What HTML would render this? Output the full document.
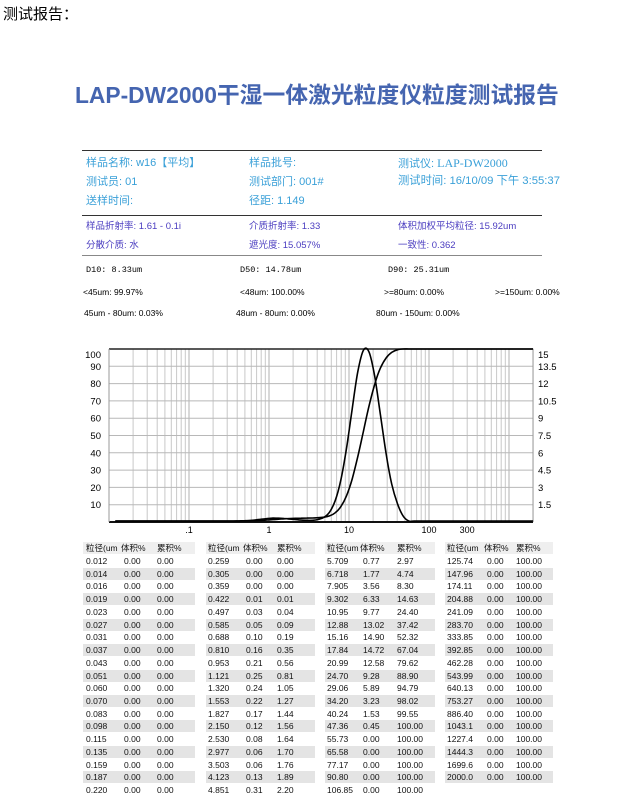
<!DOCTYPE html>
<html><head><meta charset="utf-8">
<style>
body{margin:0;width:630px;height:795px;background:#fff;position:relative;overflow:hidden;font-family:"Liberation Sans","Noto Sans CJK SC",sans-serif}
.a{position:absolute;white-space:nowrap;line-height:1}
.b{color:#3aa0d8;font-size:11px}
.p{color:#4a3cc0;font-size:9.5px}
.k{color:#000;font-size:8.5px}
.hl{position:absolute;left:82px;width:460px;height:1px;background:#333}
.sh{position:absolute;background:#e4e4e4;height:12px}
.t{position:absolute;font-size:8.5px;color:#111;white-space:nowrap;line-height:1}
</style></head><body>
<div class="a" style="left:3px;top:7px;font-size:15px;color:#000">测试报告：</div>
<div class="a" style="left:75px;top:84px;font-size:22.8px;font-weight:bold;color:#4565b0">LAP-DW2000干湿一体激光粒度仪粒度测试报告</div>

<div class="hl" style="top:150px"></div>
<div class="hl" style="top:215px"></div>
<div class="hl" style="top:255px;background:#888"></div>

<div class="a b" style="left:86px;top:158px">样品名称: w16【平均】</div>
<div class="a b" style="left:249px;top:158px">样品批号:</div>
<div class="a b" style="left:398px;top:157px">测试仪: <span style="font-family:'Liberation Serif',serif;font-size:12px">LAP-DW2000</span></div>
<div class="a b" style="left:86px;top:177px">测试员: 01</div>
<div class="a b" style="left:249px;top:177px">测试部门: 001#</div>
<div class="a b" style="left:398px;top:176px;font-size:11.3px">测试时间: 16/10/09 下午 3:55:37</div>
<div class="a b" style="left:86px;top:196px">送样时间:</div>
<div class="a b" style="left:249px;top:196px">径距: 1.149</div>

<div class="a p" style="left:86px;top:222px">样品折射率: 1.61 - 0.1i</div>
<div class="a p" style="left:249px;top:222px">介质折射率: 1.33</div>
<div class="a p" style="left:398px;top:222px">体积加权平均粒径: 15.92um</div>
<div class="a p" style="left:86px;top:241px">分散介质: 水</div>
<div class="a p" style="left:249px;top:241px">遮光度: 15.057%</div>
<div class="a p" style="left:398px;top:241px">一致性: 0.362</div>

<div class="a k" style="left:86px;top:266px;font-family:'Liberation Mono',monospace;font-size:8.5px">D10: 8.33um</div>
<div class="a k" style="left:240px;top:266px;font-family:'Liberation Mono',monospace;font-size:8.5px">D50: 14.78um</div>
<div class="a k" style="left:388px;top:266px;font-family:'Liberation Mono',monospace;font-size:8.5px">D90: 25.31um</div>
<div class="a k" style="left:83px;top:288px">&lt;45um: 99.97%</div>
<div class="a k" style="left:240px;top:288px">&lt;48um: 100.00%</div>
<div class="a k" style="left:384px;top:288px">&gt;=80um: 0.00%</div>
<div class="a k" style="left:495px;top:288px">&gt;=150um: 0.00%</div>
<div class="a k" style="left:84px;top:309px">45um - 80um: 0.03%</div>
<div class="a k" style="left:236px;top:309px">48um - 80um: 0.00%</div>
<div class="a k" style="left:376px;top:309px">80um - 150um: 0.00%</div>

<svg id="ch" width="630" height="540" style="position:absolute;left:0;top:0" xmlns="http://www.w3.org/2000/svg"></svg>
<div id="tb"></div>

<script>
var s=document.getElementById('ch'),h='';
var L=109,R=533,T=349,B=522,D=80;
function X(v){return L+D*(Math.log10(v)+2);}
for(var e=-2;e<=3;e++)for(var k=1;k<10;k++){var v=k*Math.pow(10,e);if(v>2000)break;var x=X(v);if(x<=L+0.5)continue;
h+='<line x1="'+x.toFixed(1)+'" y1="'+T+'" x2="'+x.toFixed(1)+'" y2="'+B+'" stroke="'+(k==1?'#b0b0b0':'#c8c8c8')+'" stroke-width="1"/>';}
for(var i=1;i<10;i++){var y=B-i*17.3;h+='<line x1="'+L+'" y1="'+y.toFixed(1)+'" x2="'+R+'" y2="'+y.toFixed(1)+'" stroke="#b8b8b8"/>';
h+='<text x="101" y="'+(y+3.5).toFixed(1)+'" font-size="9.5" text-anchor="end" font-family="Liberation Sans">'+(i*10)+'</text>';
h+='<text x="538" y="'+(y+3.5).toFixed(1)+'" font-size="9.5" font-family="Liberation Sans">'+[,'1.5','3','4.5','6','7.5','9','10.5','12','13.5'][i]+'</text>';}
h+='<text x="101" y="358" font-size="9.5" text-anchor="end" font-family="Liberation Sans">100</text>';
h+='<text x="538" y="358" font-size="9.5" font-family="Liberation Sans">15</text>';
h+='<line x1="'+L+'" y1="'+T+'" x2="'+R+'" y2="'+T+'" stroke="#222" stroke-width="1.5"/>';
h+='<line x1="'+L+'" y1="'+B+'" x2="'+R+'" y2="'+B+'" stroke="#111" stroke-width="2"/>';
h+='<line x1="'+L+'" y1="'+T+'" x2="'+L+'" y2="'+B+'" stroke="#999"/>';
h+='<line x1="'+R+'" y1="'+T+'" x2="'+R+'" y2="'+B+'" stroke="#999"/>';
[['.1',0.1],['1',1],['10',10],['100',100],['300',300]].forEach(function(a){h+='<text x="'+X(a[1]).toFixed(1)+'" y="533" font-size="9" text-anchor="middle" font-family="Liberation Sans">'+a[0]+'</text>';});
var d=[[0.012,0,0],[0.014,0,0],[0.016,0,0],[0.019,0,0],[0.023,0,0],[0.027,0,0],[0.031,0,0],[0.037,0,0],[0.043,0,0],[0.051,0,0],[0.060,0,0],[0.070,0,0],[0.083,0,0],[0.098,0,0],[0.115,0,0],[0.135,0,0],[0.159,0,0],[0.187,0,0],[0.220,0,0],
[0.259,0,0],[0.305,0,0],[0.359,0,0],[0.422,0.01,0.01],[0.497,0.03,0.04],[0.585,0.05,0.09],[0.688,0.10,0.19],[0.810,0.16,0.35],[0.953,0.21,0.56],[1.121,0.25,0.81],[1.320,0.24,1.05],[1.553,0.22,1.27],[1.827,0.17,1.44],[2.150,0.12,1.56],[2.530,0.08,1.64],[2.977,0.06,1.70],[3.503,0.06,1.76],[4.123,0.13,1.89],[4.851,0.31,2.20],
[5.709,0.77,2.97],[6.718,1.77,4.74],[7.905,3.56,8.30],[9.302,6.33,14.63],[10.95,9.77,24.40],[12.88,13.02,37.42],[15.16,14.90,52.32],[17.84,14.72,67.04],[20.99,12.58,79.62],[24.70,9.28,88.90],[29.06,5.89,94.79],[34.20,3.23,98.02],[40.24,1.53,99.55],[47.36,0.45,100],[55.73,0,100],[65.58,0,100],[77.17,0,100],[90.80,0,100],[106.85,0,100],
[125.74,0,100],[147.96,0,100],[174.11,0,100],[204.88,0,100],[241.09,0,100],[283.70,0,100],[333.85,0,100],[392.85,0,100],[462.28,0,100],[543.99,0,100],[640.13,0,100],[753.27,0,100],[886.40,0,100],[1043.1,0,100],[1227.4,0,100],[1444.3,0,100],[1699.6,0,100],[2000.0,0,100]];
function path(f){var p=d.map(function(r){return [X(r[0]),f(r)];});var o='M'+p[0][0].toFixed(1)+','+p[0][1].toFixed(1);
for(var i=0;i<p.length-1;i++){var p0=p[i-1]||p[i],p1=p[i],p2=p[i+1],p3=p[i+2]||p2;
o+='C'+(p1[0]+(p2[0]-p0[0])/6).toFixed(1)+','+(p1[1]+(p2[1]-p0[1])/6).toFixed(1)+' '+(p2[0]-(p3[0]-p1[0])/6).toFixed(1)+','+(p2[1]-(p3[1]-p1[1])/6).toFixed(1)+' '+p2[0].toFixed(1)+','+p2[1].toFixed(1);}
return o;}
h+='<path d="'+path(function(r){return B-1-r[1]/15*172;})+'" fill="none" stroke="#000" stroke-width="1.6"/>';
h+='<path d="'+path(function(r){return B-1-r[2]*1.72;})+'" fill="none" stroke="#000" stroke-width="1.6"/>';
s.innerHTML=h;
var tb='',gx=[[83,112,86,124,157],[206,109,208,246,277],[325,110,327,363,397],[445,108,447,487,516]];
for(var g=0;g<4;g++){var G=gx[g];
tb+='<div class="sh" style="left:'+G[0]+'px;top:542px;width:'+G[1]+'px;background:#efefef"></div>';
tb+='<div class="t" style="left:'+G[2]+'px;top:544px">粒径(um</div><div class="t" style="left:'+(G[3]-3)+'px;top:544px">体积%</div><div class="t" style="left:'+G[4]+'px;top:544px">累积%</div>';
for(var r=0;r<19;r++){var i=g*19+r;if(i>=d.length)break;var row=d[i],y=557+r*12.72;
if(r%2==1)tb+='<div class="sh" style="left:'+G[0]+'px;top:'+(y-2).toFixed(1)+'px;width:'+G[1]+'px"></div>';
var sz=row[0];var st=sz<10?sz.toFixed(3):(sz<1000?sz.toFixed(2):sz.toFixed(1));
tb+='<div class="t" style="left:'+G[2]+'px;top:'+y.toFixed(1)+'px">'+st+'</div><div class="t" style="left:'+G[3]+'px;top:'+y.toFixed(1)+'px">'+row[1].toFixed(2)+'</div><div class="t" style="left:'+G[4]+'px;top:'+y.toFixed(1)+'px">'+row[2].toFixed(2)+'</div>';}}
document.getElementById('tb').innerHTML=tb;
</script>
</body></html>
